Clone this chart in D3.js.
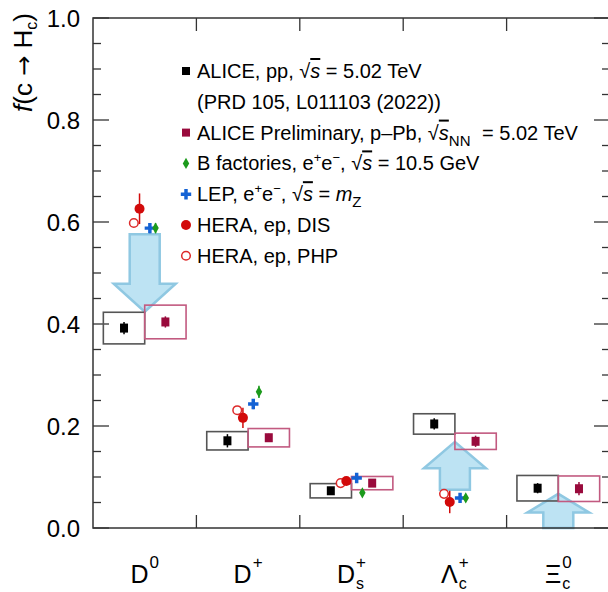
<!DOCTYPE html>
<html>
<head>
<meta charset="utf-8">
<script src="https://cdn.jsdelivr.net/npm/d3@7"></script>
<style>
  body { margin: 0; background: #fff; }
  svg text { font-family: "Liberation Sans", Arial, sans-serif; fill: #000; }
</style>
</head>
<body>
<svg id="chart" width="608" height="592"></svg>
<script>
// hadron species on the x axis
var categories = ["D0", "D+", "Ds+", "Lc+", "Xic0"];

// ALICE pp 5.02 TeV : value, stat, syst
var alicePP     = [0.392, 0.171, 0.073, 0.204, 0.078];
var alicePPstat = [0.012, 0.013, 0.006, 0.011, 0.010];
var alicePPsyst = [0.031, 0.018, 0.014, 0.020, 0.025];

// ALICE Preliminary p-Pb : value, stat, syst
var alicePPb     = [0.404, 0.177, 0.088, 0.170, 0.077];
var alicePPbstat = [0.011, 0.008, 0.005, 0.011, 0.013];
var alicePPbsyst = [0.033, 0.018, 0.013, 0.016, 0.025];

// e+e- and ep measurements (no Xi_c)
var bFactories    = [0.588, 0.267, 0.069, 0.059, null];
var bFactoriesErr = [0.010, 0.012, 0.006, 0.006, null];
var lep           = [0.588, 0.243, 0.098, 0.059, null];
var lepErr        = [0.010, 0.010, 0.006, 0.006, null];
var heraDIS       = [0.626, 0.216, 0.092, 0.051, null];
var heraDISErr    = [0.030, 0.020, 0.008, 0.022, null];
var heraPHP       = [0.598, 0.231, 0.088, 0.067, null];
var heraPHPErr    = [0.008, 0.008, 0.005, 0.008, null];

// light blue arrows: category, from, to
var arrows = [
    ["D0",   0.576, 0.424],
    ["Lc+",  0.075, 0.169],
    ["Xic0", 0.000, 0.067]
];

var yTicks = [0.0, 0.2, 0.4, 0.6, 0.8, 1.0];

(function(){

    var svg = d3.select("#chart");
    var pLeft = 93, pRight = 610, pTop = 18, pBottom = 528;

    var x = d3.scaleBand().domain(categories).range([pLeft, pRight]).padding(0);
    var y = d3.scaleLinear().domain([0, 1]).range([pBottom, pTop]);
    var bw = x.bandwidth();
    function cx(c){ return x(c) + bw / 2; }

    var axisColor = "#333";

    // ---- arrows (drawn first, boxes go on top)
    arrows.forEach(function(a){
        var c = cx(a[0]);
        var y0 = y(a[1]), y1 = y(a[2]);
        var dir = y1 > y0 ? 1 : -1;
        var len = Math.abs(y1 - y0);
        var head = Math.min(28, 0.55 * len);
        var sw = 15, hw = 31;
        var yb = y1 - dir * head;
        var pts = [[c - sw, y0], [c + sw, y0], [c + sw, yb], [c + hw, yb], [c, y1], [c - hw, yb], [c - sw, yb]];
        svg.append("path")
           .attr("d", d3.line()(pts) + "Z")
           .attr("fill", "#bde3f3")
           .attr("stroke", "#8fc8e2")
           .attr("stroke-width", 2.5)
           .attr("stroke-linejoin", "miter");
    });

    // ---- frame and axes
    var g = svg.append("g");
    g.append("rect").attr("x", pLeft).attr("y", pTop).attr("width", pRight - pLeft).attr("height", pBottom - pTop)
     .attr("fill", "none").attr("stroke", axisColor).attr("stroke-width", 1.5);

    // y ticks (major + minor) on left and right
    d3.range(0, 1.0001, 0.05).forEach(function(v){
        var major = Math.abs(v * 5 - Math.round(v * 5)) < 1e-6;
        var len = major ? 16 : 8;
        var yy = y(v);
        g.append("line").attr("x1", pLeft).attr("x2", pLeft + len).attr("y1", yy).attr("y2", yy)
         .attr("stroke", axisColor).attr("stroke-width", 1.3);
        g.append("line").attr("x1", pRight).attr("x2", pRight - len).attr("y1", yy).attr("y2", yy)
         .attr("stroke", axisColor).attr("stroke-width", 1.3);
    });

    g.selectAll(".ylab").data(yTicks).enter().append("text")
     .attr("x", 80).attr("y", function(d){ return y(d); })
     .attr("dy", "0.36em")
     .attr("text-anchor", "end")
     .style("font-size", "24px")
     .text(function(d){ return d.toFixed(1); });

    // x bin boundaries ticks bottom and top
    categories.slice(1).forEach(function(c){
        var xx = x(c);
        g.append("line").attr("x1", xx).attr("x2", xx).attr("y1", pBottom).attr("y2", pBottom - 13)
         .attr("stroke", axisColor).attr("stroke-width", 1.3);
        g.append("line").attr("x1", xx).attr("x2", xx).attr("y1", pTop).attr("y2", pTop + 13)
         .attr("stroke", axisColor).attr("stroke-width", 1.3);
    });

    // y title  f(c -> Hc)
    var yt = svg.append("text")
        .attr("transform", "translate(32,13) rotate(-90)")
        .attr("text-anchor", "end")
        .style("font-size", "26px");
    yt.append("tspan").style("font-style", "italic").text("f");
    yt.append("tspan").text("(c ");
    yt.append("tspan").style("font-family", "'DejaVu Sans'").style("font-size", "24px").text("\u2192");
    yt.append("tspan").text(" H");
    yt.append("tspan").attr("dy", 5).style("font-size", "16px").text("c");
    yt.append("tspan").attr("dy", -5).text(")");

    // x category labels
    var labelDefs = {
        "D0":   {main: "D", sup: "0", sub: null},
        "D+":   {main: "D", sup: "+", sub: null},
        "Ds+":  {main: "D", sup: "+", sub: "s"},
        "Lc+":  {main: "\u039B", sup: "+", sub: "c"},
        "Xic0": {main: "\u039E", sup: "0", sub: "c"}
    };
    categories.forEach(function(c){
        var d = labelDefs[c];
        var lg = svg.append("g");
        var m = lg.append("text").attr("x", 0).attr("y", 583).style("font-size", "25px").text(d.main);
        var w = m.node().getComputedTextLength();
        var s1 = lg.append("text").attr("x", w + 1).attr("y", 568).style("font-size", "17px").text(d.sup);
        var ws = s1.node().getComputedTextLength();
        if (d.sub) {
            var s2 = lg.append("text").attr("x", w + 1).attr("y", 589).style("font-size", "16px").text(d.sub);
            ws = Math.max(ws, s2.node().getComputedTextLength());
        }
        var tot = w + 1 + ws;
        lg.attr("transform", "translate(" + (cx(c) - tot / 2) + ",0)");
    });

    // ---- ALICE boxes and points
    var boxW = bw * 0.4;
    function aliceSeries(vals, stat, syst, off, col, boxCol){
        categories.forEach(function(c, i){
            var xl = off < 0 ? cx(c) - boxW : cx(c);
            svg.append("rect")
               .attr("x", xl).attr("width", boxW)
               .attr("y", y(vals[i] + syst[i])).attr("height", y(vals[i] - syst[i]) - y(vals[i] + syst[i]))
               .attr("fill", "none").attr("stroke", boxCol).attr("stroke-width", 1.6);
            var xm = xl + boxW / 2;
            svg.append("line").attr("x1", xm).attr("x2", xm)
               .attr("y1", y(vals[i] + stat[i])).attr("y2", y(vals[i] - stat[i]))
               .attr("stroke", col).attr("stroke-width", 1.5);
            svg.append("rect").attr("x", xm - 4).attr("y", y(vals[i]) - 4.5).attr("width", 8).attr("height", 9)
               .attr("fill", col);
        });
    }
    aliceSeries(alicePP, alicePPstat, alicePPsyst, -1, "#000", "#555");
    aliceSeries(alicePPb, alicePPbstat, alicePPbsyst, 1, "#990a3c", "#c25a80");

    // ---- other experiments
    function otherSeries(vals, errs, off, col, draw){
        categories.forEach(function(c, i){
            if (vals[i] == null) return;
            var xm = cx(c) + off * bw;
            svg.append("line").attr("x1", xm).attr("x2", xm)
               .attr("y1", y(vals[i] + errs[i])).attr("y2", y(vals[i] - errs[i]))
               .attr("stroke", col).attr("stroke-width", 1.5);
            draw(svg, xm, y(vals[i]));
        });
    }

    var markers = {
        php: function(s, px, py){
            s.append("circle").attr("cx", px).attr("cy", py).attr("r", 4.3)
             .attr("fill", "#fff").attr("stroke", "#dd2a2a").attr("stroke-width", 1.5);
        },
        dis: function(s, px, py){
            s.append("circle").attr("cx", px).attr("cy", py).attr("r", 5).attr("fill", "#d20a0a");
        },
        lep: function(s, px, py){
            s.append("path").attr("transform", "translate(" + px + "," + py + ")")
             .attr("d", d3.symbol(d3.symbolCross, 60)()).attr("fill", "#1462d4");
        },
        bfac: function(s, px, py){
            s.append("path").attr("transform", "translate(" + px + "," + py + ")")
             .attr("d", d3.symbol(d3.symbolDiamond, 36)()).attr("fill", "#1c9a1c");
        },
        ppSq: function(s, px, py){
            s.append("rect").attr("x", px - 4).attr("y", py - 4).attr("width", 8).attr("height", 8).attr("fill", "#000");
        },
        ppbSq: function(s, px, py){
            s.append("rect").attr("x", px - 4).attr("y", py - 4).attr("width", 8).attr("height", 8).attr("fill", "#990a3c");
        }
    };

    otherSeries(heraPHP, heraPHPErr, -0.105, "#dd2a2a", markers.php);
    otherSeries(heraDIS, heraDISErr, -0.05, "#d20a0a", markers.dis);
    otherSeries(lep, lepErr, 0.05, "#1462d4", markers.lep);
    otherSeries(bFactories, bFactoriesErr, 0.105, "#1c9a1c", markers.bfac);

    // ---- legend
    var legendRows = [
        {mk: markers.ppSq,  parts: [["ALICE, pp, "], ["\u221A"], ["s", "os"], [" = 5.02 TeV"]]},
        {mk: null,          parts: [["(PRD 105, L011103 (2022))"]]},
        {mk: markers.ppbSq, parts: [["ALICE Preliminary, p\u2013Pb, "], ["\u221A"], ["s", "os"], ["NN", "sub"], [" = 5.02 TeV", "gap"]]},
        {mk: markers.bfac,  parts: [["B factories, e"], ["+", "sup"], ["e"], ["\u2212", "sup"], [", "], ["\u221A"], ["s", "os"], [" = 10.5 GeV"]]},
        {mk: markers.lep,   parts: [["LEP, e"], ["+", "sup"], ["e"], ["\u2212", "sup"], [", "], ["\u221A"], ["s", "os"], [" = "], ["m", "i"], ["Z", "sub"]]},
        {mk: markers.dis,   parts: [["HERA, ep, DIS"]]},
        {mk: markers.php,   parts: [["HERA, ep, PHP"]]}
    ];
    var lg0 = 78, lstep = 30.8;
    legendRows.forEach(function(r, i){
        var by = lg0 + i * lstep;
        if (r.mk) r.mk(svg, 186, by - 7);
        var t = svg.append("text").attr("x", 197).attr("y", by).style("font-size", "20px");
        var shift = 0;
        r.parts.forEach(function(p){
            var ts = t.append("tspan").text(p[0]);
            var k = p[1];
            var dy = 0;
            if (k === "os") {
                ts.style("font-style", "italic").style("text-decoration", "overline");
            } else if (k === "sup") {
                ts.style("font-size", "13px"); dy = -8;
            } else if (k === "sub") {
                ts.style("font-size", "15px"); dy = 6;
            } else if (k === "i") {
                ts.style("font-style", "italic");
            } else if (k === "gap") {
                ts.attr("dx", 6);
            }
            ts.attr("dy", dy - shift);
            shift = dy;
        });
    });

}());
</script>
</body>
</html>
